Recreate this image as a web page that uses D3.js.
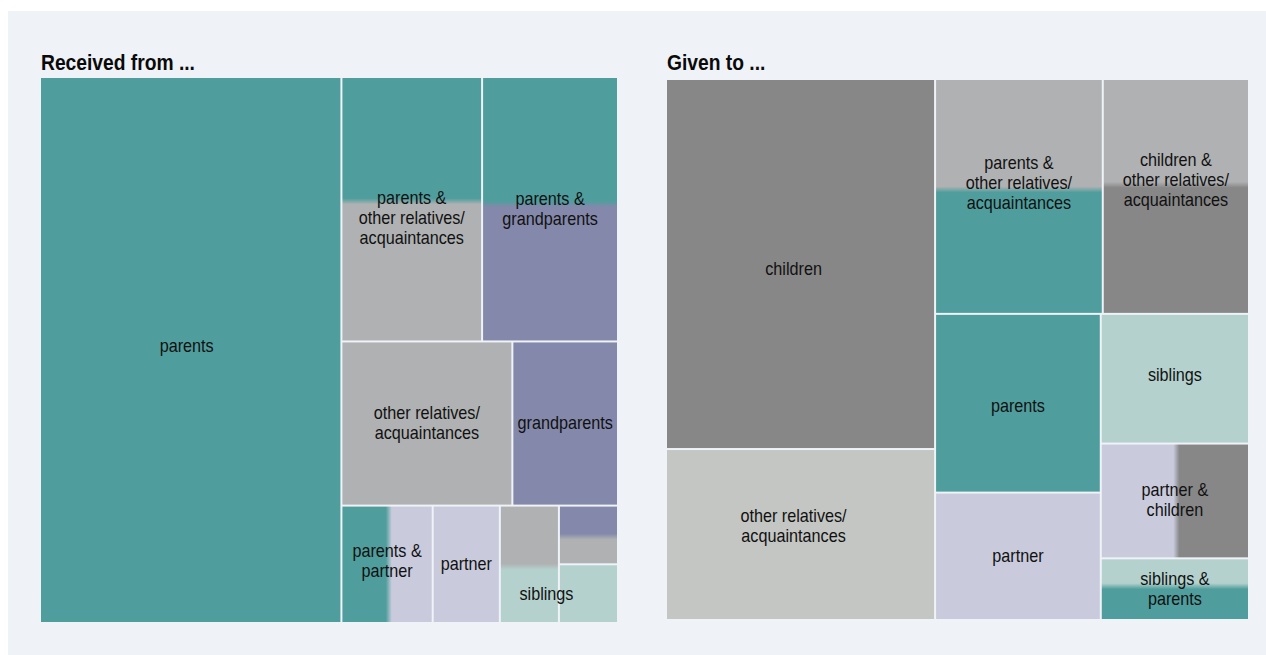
<!DOCTYPE html>
<html>
<head>
<meta charset="utf-8">
<script src="https://cdn.jsdelivr.net/npm/d3@7"></script>
<style>
  html, body { margin: 0; padding: 0; background: #ffffff; }
  svg { display: block; }
</style>
</head>
<body>
<svg id="chart" width="1266" height="655"></svg>
<script>
// ---------- DATA ----------
const receivedTitle = "Received from ...";
const receivedCategories = [
  "parents",
  "parents & other relatives/acquaintances",
  "parents & grandparents",
  "other relatives/acquaintances",
  "grandparents",
  "parents & partner",
  "partner",
  "other relatives/acquaintances & siblings",
  "grandparents & other relatives/acquaintances",
  "siblings"
];
const receivedValues = [52.2, 11.8, 11.4, 8.9, 5.5, 3.4, 2.5, 2.2, 1.1, 1.1];
const receivedLabels = [
  "parents",
  "parents &\nother relatives/\nacquaintances",
  "parents &\ngrandparents",
  "other relatives/\nacquaintances",
  "grandparents",
  "parents &\npartner",
  "partner",
  "",
  "",
  "siblings"
];
const receivedColorA = ["parents","parents","parents","other","grand","parents","partner","other","grand","siblings"];
const receivedColorB = [null,"other","grand",null,null,"partner",null,"siblings","other",null];
const receivedSplit  = [null,0.47,0.48,null,null,0.52,null,0.52,0.53,null];
const receivedDir    = [null,"v","v",null,null,"h",null,"v","v",null];

const givenTitle = "Given to ...";
const givenCategories = [
  "children",
  "other relatives/acquaintances",
  "parents & other relatives/acquaintances",
  "children & other relatives/acquaintances",
  "parents",
  "partner",
  "siblings",
  "partner & children",
  "siblings & parents"
];
const givenValues = [31.6, 14.6, 12.5, 10.9, 9.4, 6.7, 6.1, 5.4, 2.9];
const givenLabels = [
  "children",
  "other relatives/\nacquaintances",
  "parents &\nother relatives/\nacquaintances",
  "children &\nother relatives/\nacquaintances",
  "parents",
  "partner",
  "siblings",
  "partner &\nchildren",
  "siblings &\nparents"
];
const givenColorA = ["children","otherLight","other","other","parents","partner","siblings","partner","siblings"];
const givenColorB = [null,null,"parents","children",null,null,null,"children","parents"];
const givenSplit  = [null,null,0.47,0.45,null,null,null,0.51,0.45];
const givenDir    = [null,null,"v","v",null,null,null,"h","v"];

// ---------- STYLE ----------
const palette = {
  parents: "#4f9e9d",
  other: "#b0b1b3",
  otherLight: "#c4c6c3",
  grand: "#8489ab",
  partner: "#c9cbdc",
  siblings: "#b4d1ce",
  children: "#878787"
};
const labelNudge = {
  "received|parents & other relatives/acquaintances": [0, 9],
  "received|siblings": [-42, 1],
  "received|parents": [-4, -3],
  "received|parents & partner": [0, -3],
  "given|children": [-7, 5],
  "given|other relatives/acquaintances": [-7, -8],
  "given|parents & other relatives/acquaintances": [0, -13],
  "given|children & other relatives/acquaintances": [0, -16],
  "given|parents": [0, 3],
  "given|siblings": [0, -3]
};
const FONT = "'Liberation Sans', Arial, sans-serif";

const svg = d3.select("#chart");
svg.append("rect").attr("x", 8).attr("y", 11).attr("width", 1258).attr("height", 644).attr("fill", "#eff2f7");
const defs = svg.append("defs");

function drawTreemap(key, title, cats, vals, labels, colA, colB, split, dir, ox, oy, w, h, titleY) {
  const data = {name: key, children: cats.map((c, i) => ({
    name: c, value: vals[i], label: labels[i], a: colA[i], b: colB[i], s: split[i], d: dir[i]
  }))};
  const root = d3.hierarchy(data).sum(d => d.value || 0);
  d3.treemap().tile(d3.treemapSquarify.ratio(1)).size([w, h]).paddingInner(2)(root);

  const g = svg.append("g").attr("transform", `translate(${ox},${oy})`);
  svg.append("text")
    .attr("transform", `translate(${ox},${titleY}) scale(0.875,1)`)
    .attr("font-family", FONT)
    .attr("font-weight", "bold").attr("font-size", 22).attr("fill", "#0a0a0a")
    .text(title);

  const leaves = root.leaves();
  leaves.forEach((n, i) => {
    const d = n.data;
    let fill = palette[d.a];
    if (d.b) {
      const id = `grad-${key}-${i}`;
      const len = d.d === "v" ? (n.y1 - n.y0) : (n.x1 - n.x0);
      const t = 3 / len;
      const lg = defs.append("linearGradient").attr("id", id)
        .attr("x1", 0).attr("y1", 0)
        .attr("x2", d.d === "h" ? 1 : 0).attr("y2", d.d === "v" ? 1 : 0);
      lg.append("stop").attr("offset", d.s - t).attr("stop-color", palette[d.a]);
      lg.append("stop").attr("offset", d.s + t).attr("stop-color", palette[d.b]);
      fill = `url(#${id})`;
    }
    g.append("rect")
      .attr("x", n.x0).attr("y", n.y0)
      .attr("width", n.x1 - n.x0).attr("height", n.y1 - n.y0)
      .attr("fill", fill);
  });

  leaves.forEach(n => {
    const d = n.data;
    if (!d.label) return;
    const lines = d.label.split("\n");
    const nudge = labelNudge[`${key}|${d.name}`] || [0, 0];
    const cx = (n.x0 + n.x1) / 2 + nudge[0];
    const cy = (n.y0 + n.y1) / 2 + nudge[1];
    const lh = 20;
    const t = g.append("text")
      .attr("transform", `translate(${cx},0) scale(0.9,1)`)
      .attr("text-anchor", "middle")
      .attr("font-family", FONT)
      .attr("font-size", 18).attr("fill", "#111");
    lines.forEach((ln, j) => {
      t.append("tspan").attr("x", 0)
        .attr("y", cy - (lines.length - 1) * lh / 2 + j * lh + 5.5)
        .text(ln);
    });
  });
}

drawTreemap("received", receivedTitle, receivedCategories, receivedValues, receivedLabels,
  receivedColorA, receivedColorB, receivedSplit, receivedDir, 41, 78, 576, 544, 70);
drawTreemap("given", givenTitle, givenCategories, givenValues, givenLabels,
  givenColorA, givenColorB, givenSplit, givenDir, 667, 80, 581, 539, 70);
</script>
</body>
</html>
